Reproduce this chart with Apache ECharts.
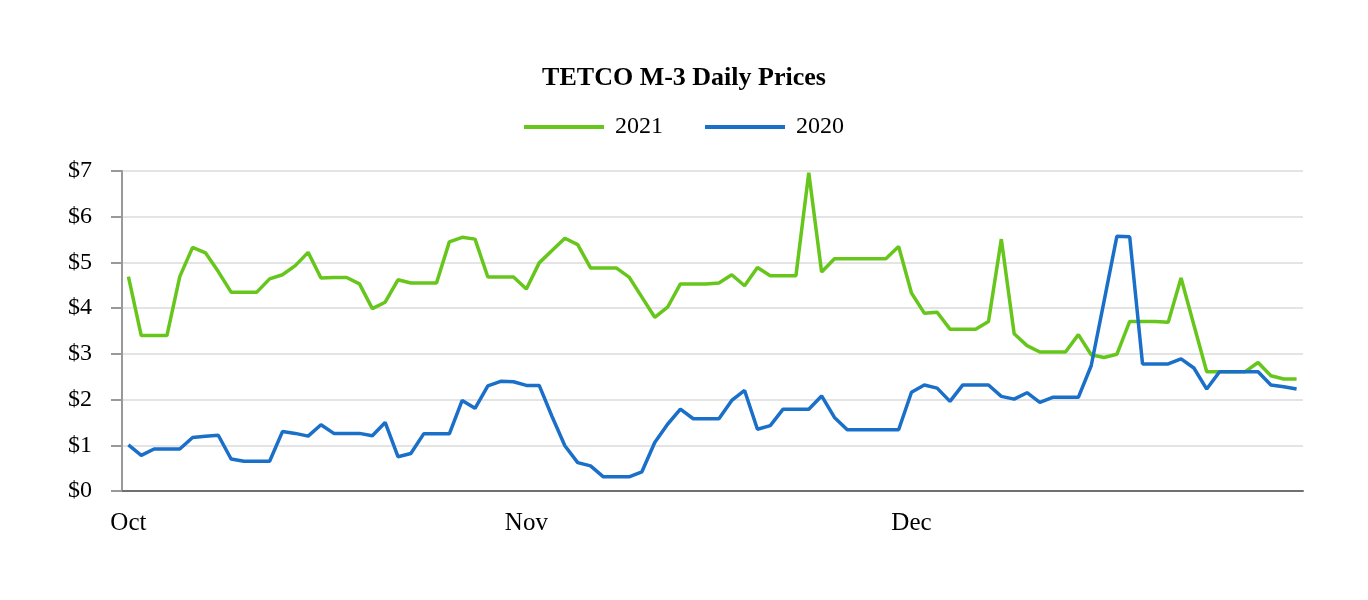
<!DOCTYPE html>
<html>
<head>
<meta charset="utf-8">
<script src="https://cdn.jsdelivr.net/npm/echarts@6/dist/echarts.min.js"></script>
<style>
html,body{margin:0;padding:0;background:#fff;}
#chart{width:1368px;height:600px;}
</style>
</head>
<body>
<div id="chart"></div>
<script>
// Daily categories, Oct 1 .. Dec 31 (92 days)
const monthStarts = { 0: 'Oct', 31: 'Nov', 61: 'Dec' };
const monthLengths = [['10', 31], ['11', 30], ['12', 31]];
const days = [];
monthLengths.forEach(([m, n]) => { for (let d = 1; d <= n; d++) days.push(m + '/' + d); });

const yTicks = ['$0', '$1', '$2', '$3', '$4', '$5', '$6', '$7'];

const series2021 = [
  4.69, 3.40, 3.40, 3.40, 4.69, 5.33, 5.21, 4.80, 4.35, 4.35,
  4.35, 4.64, 4.73, 4.93, 5.22, 4.66, 4.67, 4.67, 4.53, 3.99,
  4.13, 4.62, 4.55, 4.55, 4.55, 5.45, 5.55, 5.51, 4.68, 4.68,
  4.68, 4.42, 4.99, 5.26, 5.53, 5.39, 4.88, 4.88, 4.88, 4.68,
  4.24, 3.80, 4.02, 4.53, 4.53, 4.53, 4.55, 4.73, 4.49, 4.89,
  4.71, 4.71, 4.71, 6.96, 4.79, 5.08, 5.08, 5.08, 5.08, 5.08,
  5.35, 4.33, 3.89, 3.91, 3.54, 3.54, 3.54, 3.71, 5.51, 3.44,
  3.18, 3.04, 3.04, 3.04, 3.42, 2.98, 2.92, 2.99, 3.71, 3.71,
  3.71, 3.69, 4.66, 3.63, 2.61, 2.61, 2.61, 2.61, 2.81, 2.52,
  2.45, 2.45
];

const series2020 = [
  1.01, 0.78, 0.92, 0.92, 0.92, 1.17, 1.20, 1.22, 0.70, 0.65,
  0.65, 0.65, 1.30, 1.26, 1.20, 1.45, 1.26, 1.26, 1.26, 1.21,
  1.50, 0.75, 0.82, 1.25, 1.25, 1.25, 1.98, 1.81, 2.30, 2.40,
  2.39, 2.31, 2.31, 1.63, 0.99, 0.62, 0.55, 0.31, 0.31, 0.31,
  0.42, 1.06, 1.46, 1.79, 1.58, 1.58, 1.58, 1.98, 2.20, 1.35,
  1.43, 1.79, 1.79, 1.79, 2.08, 1.61, 1.34, 1.34, 1.34, 1.34,
  1.34, 2.16, 2.32, 2.25, 1.96, 2.32, 2.32, 2.32, 2.07, 2.01,
  2.15, 1.94, 2.05, 2.05, 2.05, 2.74, 4.15, 5.57, 5.56, 2.78,
  2.78, 2.78, 2.89, 2.69, 2.23, 2.61, 2.61, 2.61, 2.61, 2.32,
  2.28, 2.23
];

const GREEN = '#66c61c';
const BLUE = '#1a6fc8';
const FONT = '"Liberation Serif", "Times New Roman", serif';

const chart = echarts.init(document.getElementById('chart'));
chart.setOption({
  backgroundColor: '#ffffff',
  animation: false,
  textStyle: { fontFamily: FONT },
  title: {
    text: 'TETCO M-3 Daily Prices',
    left: 'center',
    top: 60,
    textStyle: { fontFamily: FONT, fontSize: 26, fontWeight: 'bold', color: '#000' }
  },
  legend: {
    top: 110,
    left: 'center',
    icon: 'rect',
    itemWidth: 80,
    itemHeight: 4,
    itemGap: 42,
    data: ['2021', '2020'],
    textStyle: { fontFamily: FONT, fontSize: 24, color: '#000', padding: [0, 0, 0, 6] }
  },
  grid: { left: 122, right: 65, top: 171, bottom: 109, containLabel: false },
  xAxis: {
    type: 'category',
    data: days,
    boundaryGap: true,
    axisLine: { show: true, lineStyle: { color: '#707070', width: 2 } },
    axisTick: { show: false },
    splitLine: { show: false },
    axisLabel: {
      interval: (idx) => monthStarts[idx] !== undefined,
      formatter: (val, idx) => monthStarts[idx] || '',
      fontFamily: FONT, fontSize: 25, color: '#000', margin: 20
    }
  },
  yAxis: {
    type: 'value',
    min: 0, max: 7, interval: 1,
    axisLine: { show: true, lineStyle: { color: '#999999', width: 2 } },
    axisTick: { show: true, length: 11, lineStyle: { color: '#999999', width: 2 } },
    splitLine: { show: true, lineStyle: { color: '#e4e4e4', width: 2 } },
    axisLabel: {
      formatter: (v) => yTicks[v] || '',
      fontFamily: FONT, fontSize: 24, color: '#000', margin: 30
    }
  },
  series: [
    {
      name: '2021', type: 'line', data: series2021,
      symbol: 'none', color: GREEN,
      lineStyle: { color: GREEN, width: 3.5 }, z: 3
    },
    {
      name: '2020', type: 'line', data: series2020,
      symbol: 'none', color: BLUE,
      lineStyle: { color: BLUE, width: 3.5 }, z: 4
    }
  ]
});
</script>
</body>
</html>
